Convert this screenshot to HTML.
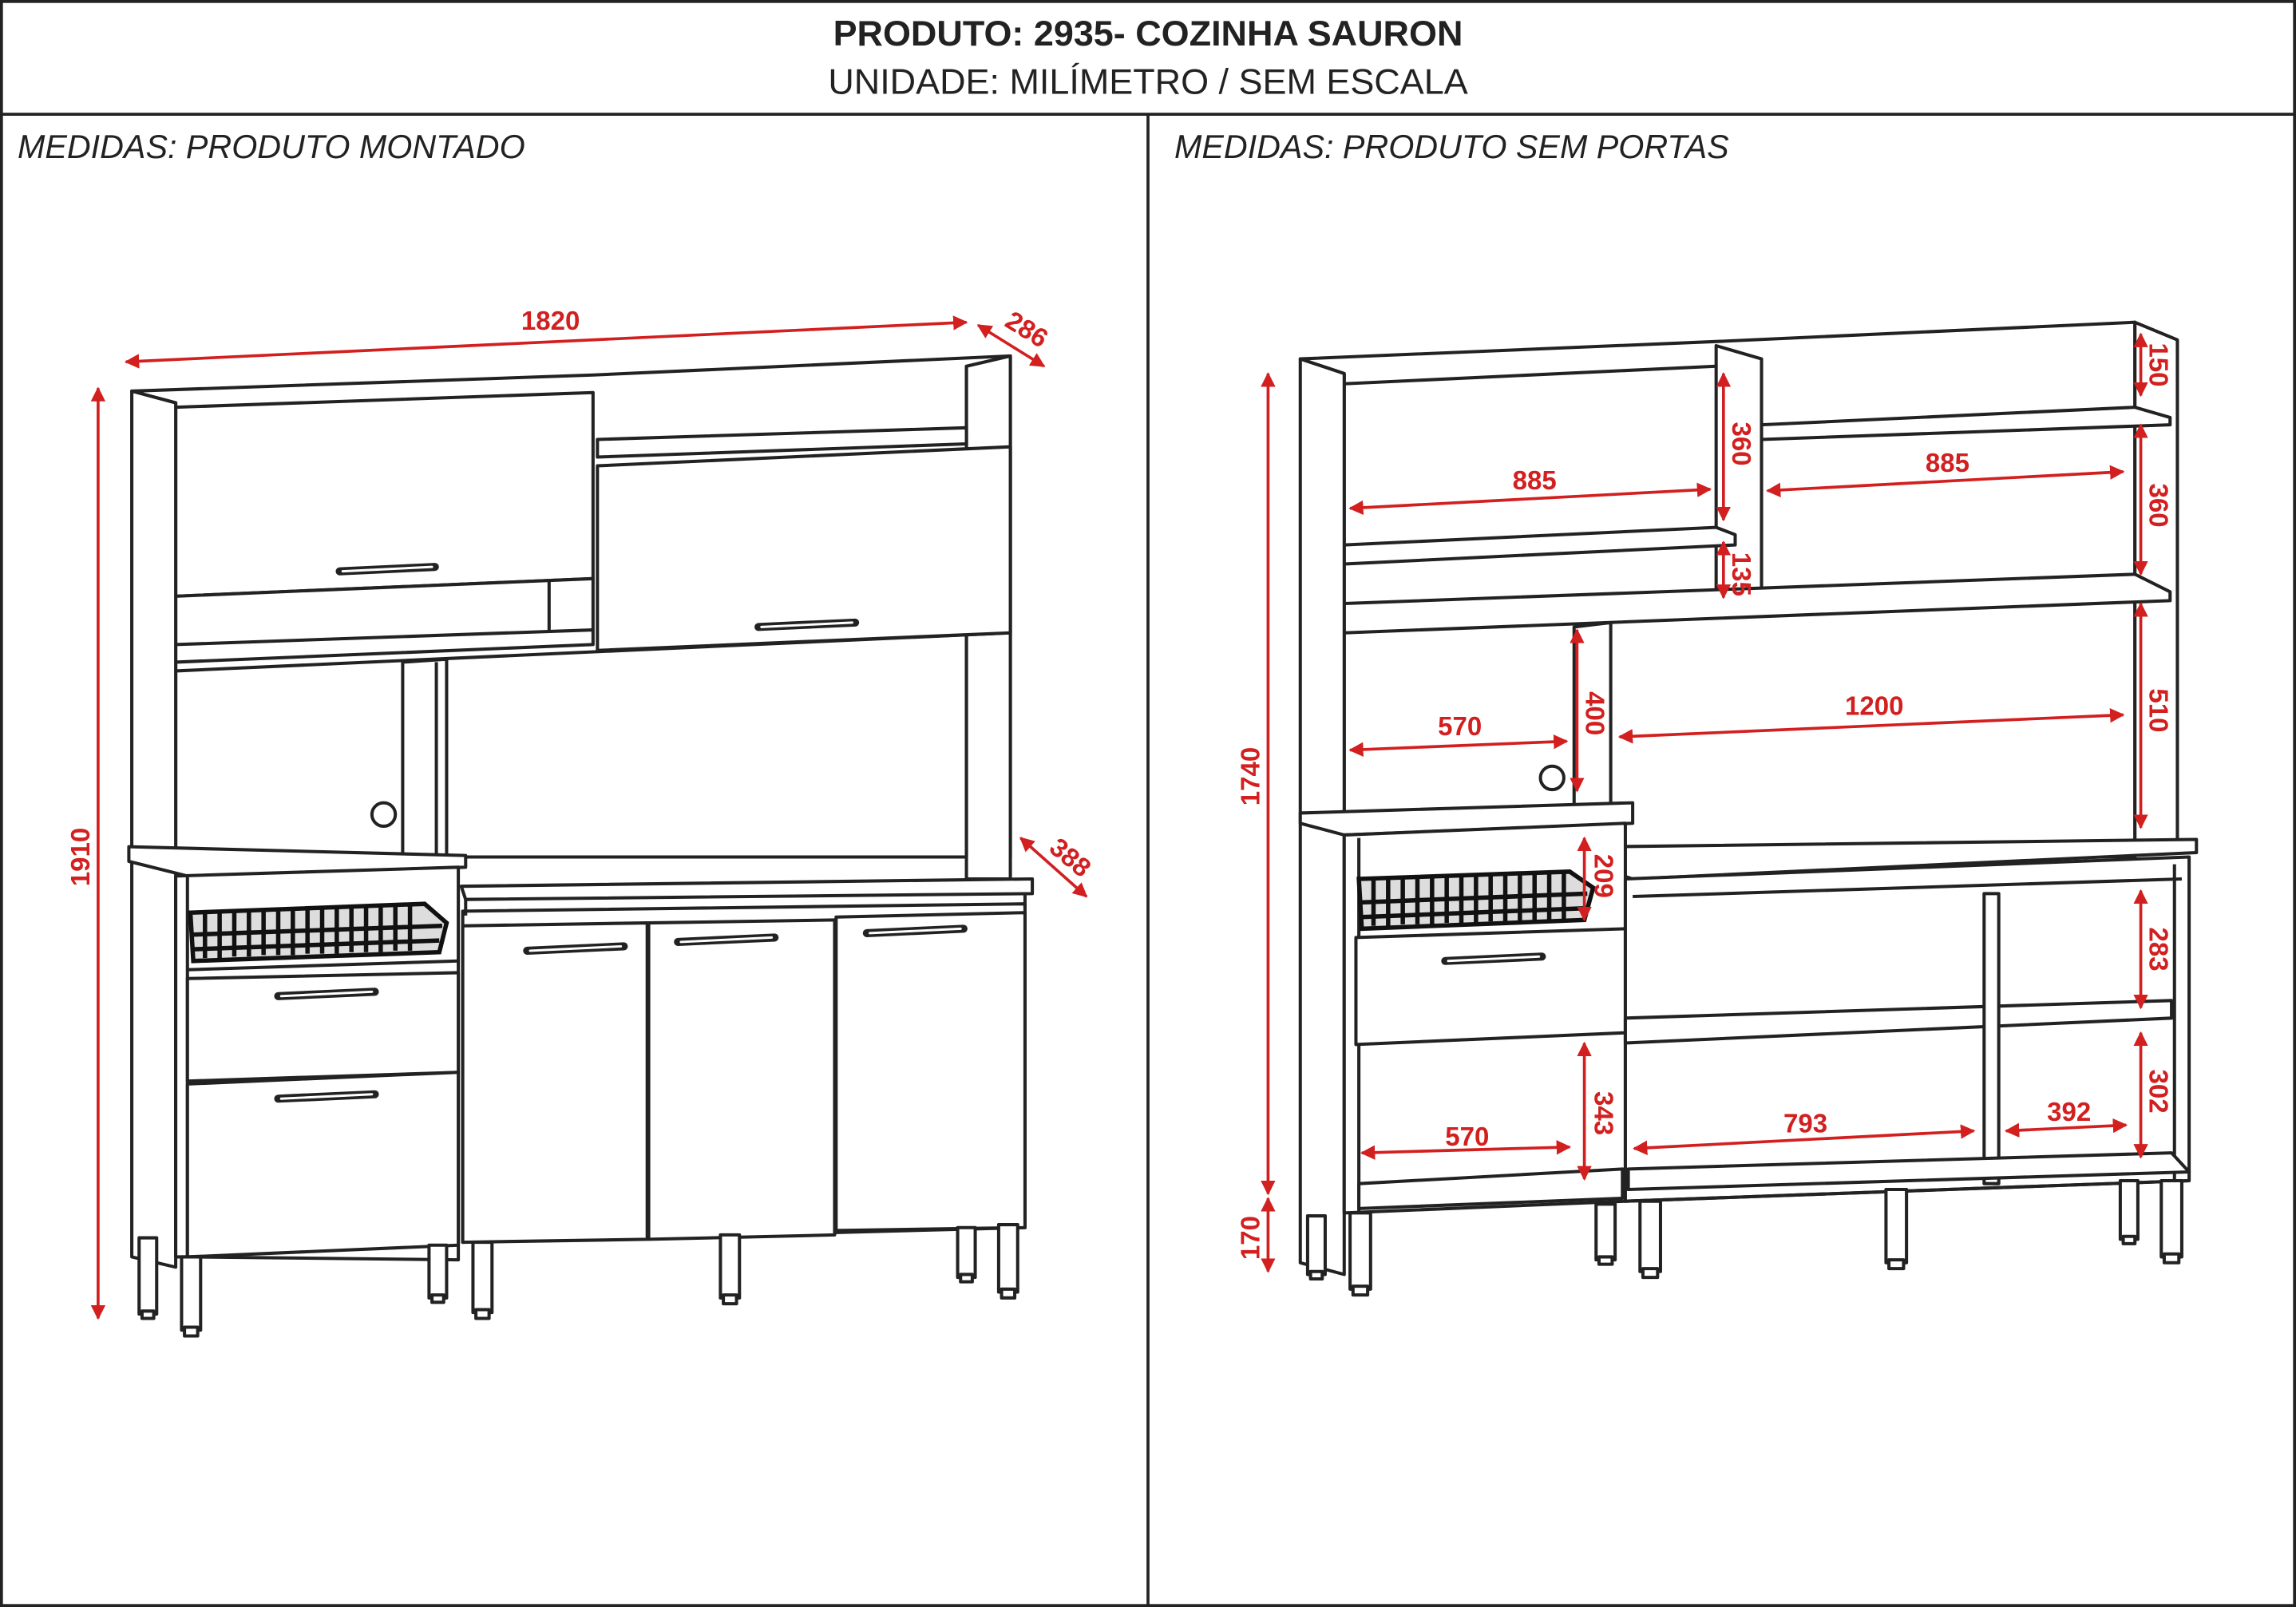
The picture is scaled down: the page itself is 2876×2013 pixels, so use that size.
<!DOCTYPE html>
<html><head><meta charset="utf-8"><style>
html,body{margin:0;padding:0;background:#fff}
svg{display:block}
text{font-family:"Liberation Sans",sans-serif}
.d{fill:#d21f1f;font-weight:bold;font-size:18px}
.r{stroke:#d21f1f;stroke-width:2;fill:none;marker-start:url(#a);marker-end:url(#a)}
.k{stroke:#222;stroke-width:2.2;fill:#fff;stroke-linejoin:round}
.l{stroke:#222;stroke-width:2.2;fill:none}
.h{stroke:#222;stroke-width:5.5;stroke-linecap:round}
.h2{stroke:#fff;stroke-width:1.6;stroke-linecap:round}
</style></head><body>
<svg width="2876" height="2013" viewBox="0 0 1568 1097" preserveAspectRatio="none">
<defs>
<marker id="a" viewBox="0 0 10 10" refX="9" refY="5" markerWidth="5" markerHeight="5" orient="auto-start-reverse"><path d="M0,0 L10,5 L0,10 z" fill="#d21f1f"/></marker>
</defs>
<rect x="1" y="1" width="1566" height="1095" fill="#fff" stroke="#222" stroke-width="2"/>
<line x1="1" y1="78" x2="1567" y2="78" stroke="#222" stroke-width="2"/>
<line x1="784" y1="78" x2="784" y2="1096" stroke="#222" stroke-width="2"/>
<text x="784" y="31" text-anchor="middle" font-size="24.5" font-weight="bold" fill="#222">PRODUTO: 2935- COZINHA SAURON</text>
<text x="784" y="64" text-anchor="middle" font-size="24.5" fill="#222">UNIDADE: MILÍMETRO / SEM ESCALA</text>
<text x="12" y="108" font-size="22.5" font-style="italic" fill="#222">MEDIDAS: PRODUTO MONTADO</text>
<text x="802" y="108" font-size="22.5" font-style="italic" fill="#222">MEDIDAS: PRODUTO SEM PORTAS</text>

<!-- LEFT DRAWING -->
<g>
<polygon class="k" points="90,267 405,256 690,243 690,585 120,585 120,275"/>
<polygon class="k" points="660,250 690,243 690,600 660,600"/>
<line class="l" x1="660" y1="250" x2="660" y2="585"/>
<polygon class="k" points="408,300 660,292 660,303 408,312"/>
<polygon class="k" points="120,278 405,268 405,395 120,407"/>
<line class="h" x1="232" y1="390" x2="297" y2="387"/><line class="h2" x1="234" y1="390" x2="295" y2="387"/>
<polygon class="k" points="120,407 405,395 405,440 120,452"/>
<line class="l" x1="375" y1="397" x2="375" y2="430"/>
<line class="l" x1="120" y1="440" x2="405" y2="430"/>
<line class="l" x1="120" y1="458" x2="690" y2="432"/>
<polygon class="k" points="408,318 690,305 690,432 408,444"/>
<line class="h" x1="518" y1="428" x2="584" y2="425"/><line class="h2" x1="520" y1="428" x2="582" y2="425"/>
<polygon class="k" points="275,452 305,450 305,585 275,585"/>
<line class="l" x1="298" y1="452" x2="298" y2="585"/>
<circle cx="262" cy="556" r="8" class="k"/>
<polygon class="k" points="90,267 120,275 120,865 90,858"/>
<polygon class="k" points="88,578 318,584 318,592 128,598 88,588"/>
<polygon class="k" points="120,598 313,592 313,860 128,858 120,858"/>
<line class="l" x1="128" y1="598" x2="128" y2="858"/>
<g stroke="#111" stroke-width="3" fill="none">
<polygon points="130,623 290,617 305,630 300,650 132,656" fill="#ddd"/>
<line x1="132" y1="638" x2="302" y2="632"/>
<line x1="132" y1="648" x2="300" y2="642"/>
<path d="M140,622v32M150,622v32M160,621v32M170,621v32M180,620v32M190,620v32M200,620v32M210,619v32M220,619v32M230,619v32M240,618v32M250,618v32M260,618v32M270,617v32M280,617v32"/>
</g>
<line class="l" x1="128" y1="662" x2="313" y2="656"/>
<polygon class="k" points="128,668 313,664 313,732 128,738"/>
<line class="h" x1="190" y1="680" x2="256" y2="677"/><line class="h2" x1="192" y1="680" x2="254" y2="677"/>
<polygon class="k" points="128,740 313,732 313,850 128,858"/>
<line class="h" x1="190" y1="750" x2="256" y2="747"/><line class="h2" x1="192" y1="750" x2="254" y2="747"/>
<polygon class="k" points="315,605 705,600 705,610 318,614"/>
<polygon class="k" points="316,622 700,617 700,838 316,848"/>
<line class="l" x1="318" y1="614" x2="318" y2="625"/>
<line class="l" x1="700" y1="610" x2="700" y2="620"/>
<polygon class="k" points="316,632 442,630 442,846 316,848"/>
<polygon class="k" points="443,630 570,628 570,843 443,846"/>
<polygon class="k" points="571,626 700,623 700,838 571,840"/>
<line class="h" x1="360" y1="649" x2="426" y2="646"/><line class="h2" x1="362" y1="649" x2="424" y2="646"/>
<line class="h" x1="463" y1="643" x2="529" y2="640"/><line class="h2" x1="465" y1="643" x2="527" y2="640"/>
<line class="h" x1="592" y1="637" x2="658" y2="634"/><line class="h2" x1="594" y1="637" x2="656" y2="634"/>
<g class="k">
<rect x="95" y="845" width="12" height="52"/><rect x="97" y="895" width="8" height="5"/>
<rect x="124" y="858" width="13" height="50"/><rect x="126" y="906" width="9" height="6"/>
<rect x="293" y="850" width="12" height="36"/><rect x="295" y="884" width="8" height="5"/>
<rect x="323" y="848" width="13" height="48"/><rect x="325" y="894" width="9" height="6"/>
<rect x="492" y="843" width="13" height="43"/><rect x="494" y="884" width="9" height="6"/>
<rect x="654" y="838" width="12" height="34"/><rect x="656" y="870" width="8" height="5"/>
<rect x="682" y="836" width="13" height="46"/><rect x="684" y="880" width="9" height="6"/>
</g>
<line class="r" x1="86" y1="247" x2="660" y2="220"/>
<text class="d" x="376" y="225" text-anchor="middle">1820</text>
<line class="r" x1="668" y1="222" x2="713" y2="250"/>
<text class="d" transform="translate(698,230) rotate(32)" text-anchor="middle">286</text>
<line class="r" x1="67" y1="265" x2="67" y2="900"/>
<text class="d" transform="translate(61,585) rotate(-90)" text-anchor="middle">1910</text>
<line class="r" x1="697" y1="572" x2="742" y2="612"/>
<text class="d" transform="translate(727,590) rotate(40)" text-anchor="middle">388</text>
</g>

<!-- RIGHT DRAWING -->
<g>
<polygon class="k" points="888,245 1175,233 1458,220 1458,585 918,580 918,255"/>
<polygon class="k" points="1458,220 1487,232 1487,580 1458,580"/>
<line class="l" x1="918" y1="262" x2="1172" y2="250"/>
<polygon class="k" points="1172,236 1203,245 1203,418 1172,418"/>
<polygon class="k" points="918,372 1172,360 1185,365 1185,372 918,385"/>
<polygon class="k" points="918,412 1458,392 1482,404 1482,410 918,432"/>
<polygon class="k" points="1203,290 1458,278 1482,285 1482,290 1203,300"/>
<polygon class="k" points="1075,428 1100,425 1100,560 1075,560"/>
<circle cx="1060" cy="531" r="8" class="k"/>
<polygon class="k" points="888,245 918,255 918,870 888,862"/>
<polygon class="k" points="888,555 1115,548 1115,562 918,570 888,562"/>
<polygon class="k" points="1100,578 1500,573 1500,582 1115,600 1100,595"/>
<polygon class="k" points="918,570 1110,562 1110,820 918,828"/>
<line class="l" x1="928" y1="572" x2="928" y2="828"/>
<g stroke="#111" stroke-width="3" fill="none">
<polygon points="928,600 1072,595 1088,606 1082,628 930,634" fill="#ddd"/>
<line x1="930" y1="616" x2="1084" y2="610"/>
<line x1="930" y1="626" x2="1082" y2="620"/>
<path d="M938,600v32M948,600v32M958,599v32M968,599v32M978,599v32M988,598v32M998,598v32M1008,598v32M1018,597v32M1028,597v32M1038,597v32M1048,596v32M1058,596v32M1068,596v32"/>
</g>
<polygon class="k" points="926,640 1110,634 1110,705 926,713"/>
<line class="h" x1="987" y1="656" x2="1053" y2="653"/><line class="h2" x1="989" y1="656" x2="1051" y2="653"/>
<polygon class="k" points="928,808 1108,798 1108,818 928,825"/>
<polygon class="k" points="1110,600 1495,585 1495,806 1110,820"/>
<line class="l" x1="1115" y1="612" x2="1490" y2="600"/>
<line class="l" x1="1485" y1="590" x2="1485" y2="805"/>
<polygon class="k" points="1110,695 1483,683 1483,695 1110,712"/>
<polygon class="k" points="1355,610 1365,610 1365,808 1355,808"/>
<polygon class="k" points="1112,798 1483,787 1495,800 1112,812"/>
<line class="l" x1="1110" y1="820" x2="1495" y2="806"/>
<g class="k">
<rect x="893" y="830" width="12" height="40"/><rect x="895" y="868" width="8" height="5"/>
<rect x="922" y="828" width="14" height="52"/><rect x="924" y="878" width="10" height="6"/>
<rect x="1090" y="822" width="13" height="38"/><rect x="1092" y="858" width="9" height="5"/>
<rect x="1120" y="820" width="14" height="48"/><rect x="1122" y="866" width="10" height="6"/>
<rect x="1288" y="812" width="14" height="50"/><rect x="1290" y="860" width="10" height="6"/>
<rect x="1448" y="806" width="12" height="40"/><rect x="1450" y="844" width="8" height="5"/>
<rect x="1476" y="806" width="14" height="52"/><rect x="1478" y="856" width="10" height="6"/>
</g>
<line class="r" x1="866" y1="255" x2="866" y2="815"/>
<text class="d" transform="translate(860,530) rotate(-90)" text-anchor="middle">1740</text>
<line class="r" x1="866" y1="818" x2="866" y2="868"/>
<text class="d" transform="translate(860,845) rotate(-90)" text-anchor="middle">170</text>
<line class="r" x1="922" y1="347" x2="1168" y2="334"/>
<text class="d" x="1048" y="334" text-anchor="middle">885</text>
<line class="r" x1="1177" y1="255" x2="1177" y2="355"/>
<text class="d" transform="translate(1183,303) rotate(90)" text-anchor="middle">360</text>
<line class="r" x1="1177" y1="370" x2="1177" y2="408"/>
<text class="d" transform="translate(1183,392) rotate(90)" text-anchor="middle">135</text>
<line class="r" x1="1207" y1="335" x2="1450" y2="322"/>
<text class="d" x="1330" y="322" text-anchor="middle">885</text>
<line class="r" x1="1462" y1="228" x2="1462" y2="270"/>
<text class="d" transform="translate(1468,249) rotate(90)" text-anchor="middle">150</text>
<line class="r" x1="1462" y1="290" x2="1462" y2="392"/>
<text class="d" transform="translate(1468,345) rotate(90)" text-anchor="middle">360</text>
<line class="r" x1="922" y1="512" x2="1070" y2="506"/>
<text class="d" x="997" y="502" text-anchor="middle">570</text>
<line class="r" x1="1077" y1="430" x2="1077" y2="540"/>
<text class="d" transform="translate(1083,487) rotate(90)" text-anchor="middle">400</text>
<line class="r" x1="1106" y1="503" x2="1450" y2="488"/>
<text class="d" x="1280" y="488" text-anchor="middle">1200</text>
<line class="r" x1="1462" y1="412" x2="1462" y2="565"/>
<text class="d" transform="translate(1468,485) rotate(90)" text-anchor="middle">510</text>
<line class="r" x1="1082" y1="572" x2="1082" y2="628"/>
<text class="d" transform="translate(1089,598) rotate(90)" text-anchor="middle">209</text>
<line class="r" x1="1462" y1="608" x2="1462" y2="688"/>
<text class="d" transform="translate(1468,648) rotate(90)" text-anchor="middle">283</text>
<line class="r" x1="1462" y1="705" x2="1462" y2="790"/>
<text class="d" transform="translate(1468,745) rotate(90)" text-anchor="middle">302</text>
<line class="r" x1="1082" y1="712" x2="1082" y2="805"/>
<text class="d" transform="translate(1089,760) rotate(90)" text-anchor="middle">343</text>
<line class="r" x1="930" y1="787" x2="1072" y2="783"/>
<text class="d" x="1002" y="782" text-anchor="middle">570</text>
<line class="r" x1="1116" y1="784" x2="1348" y2="772"/>
<text class="d" x="1233" y="773" text-anchor="middle">793</text>
<line class="r" x1="1370" y1="772" x2="1452" y2="768"/>
<text class="d" x="1413" y="765" text-anchor="middle">392</text>
</g>
</svg>
</body></html>
